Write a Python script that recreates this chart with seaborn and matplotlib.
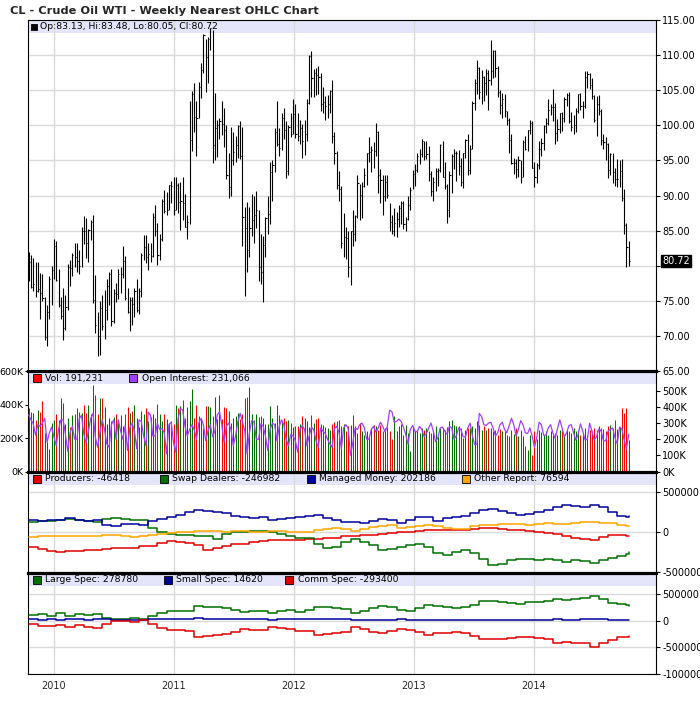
import numpy as np
import pandas as pd
import matplotlib
matplotlib.use("Agg")
import matplotlib.pyplot as plt
import matplotlib.dates as mdates
import matplotlib.transforms as mtransforms
from matplotlib.patches import Rectangle
import seaborn as sns

sns.set_style("white")
plt.rcParams['font.family'] = ['DejaVu Sans']

# ---------------- data ----------------
first_week = "2009-10-16"

price_high = [
    82.0, 81.6, 81.1, 80.5, 80.5, 79.0, 78.8, 75.6, 74.5, 78.5,
    80.0, 83.9, 83.5, 79.6, 75.6, 76.8, 75.9, 80.3, 80.8, 81.9,
    83.2, 83.3, 82.3, 85.6, 87.1, 86.8, 85.3, 86.6, 87.2, 78.7,
    73.5, 75.0, 75.9, 76.6, 78.2, 79.2, 79.6, 76.7, 77.6, 79.5,
    79.8, 82.9, 81.4, 76.8, 75.6, 75.6, 76.8, 78.2, 76.9, 81.8,
    84.4, 84.4, 83.3, 83.2, 87.5, 88.6, 86.1, 84.6, 89.5, 90.8,
    90.5, 91.5, 92.1, 92.6, 92.6, 91.8, 92.0, 92.7, 90.2, 87.3,
    103.4, 104.9, 106.0, 103.4, 106.2, 108.8, 113.0, 112.3, 112.5, 113.9,
    113.5, 104.6, 100.8, 101.0, 103.4, 102.4, 100.0, 96.0, 99.8, 99.0,
    98.5, 100.0, 100.6, 99.8, 88.4, 89.1, 88.4, 90.3, 90.0, 90.6,
    88.0, 84.6, 84.2, 86.9, 89.9, 94.8, 95.0, 99.6, 103.4, 99.6,
    101.7, 102.4, 100.6, 100.0, 101.8, 103.7, 103.0, 101.7, 100.8, 100.2,
    100.7, 103.8, 110.0, 110.5, 108.0, 108.2, 108.4, 107.5, 105.5, 104.2,
    104.3, 105.0, 106.4, 99.0, 96.3, 93.5, 91.4, 87.5, 85.5, 84.9,
    85.0, 88.0, 87.3, 92.9, 91.7, 91.9, 94.0, 96.0, 98.3, 97.0,
    97.6, 100.4, 99.2, 93.8, 92.9, 93.0, 93.0, 89.0, 87.3, 88.3,
    87.7, 88.6, 89.3, 89.2, 87.0, 90.0, 91.2, 93.7, 94.5, 96.0,
    96.6, 98.0, 97.8, 97.8, 97.0, 93.5, 92.6, 94.0, 94.0, 97.3,
    97.8, 94.8, 91.6, 93.5, 95.9, 96.7, 96.3, 96.5, 95.4, 96.0,
    98.0, 98.7, 97.2, 103.4, 106.6, 109.3, 108.3, 107.9, 107.0, 108.0,
    107.9, 112.2, 110.7, 110.7, 108.5, 105.0, 104.6, 104.4, 102.0, 101.1,
    98.7, 95.3, 95.2, 95.6, 95.0, 97.9, 98.5, 99.3, 100.8, 100.6,
    94.8, 94.7, 97.8, 98.2, 100.0, 101.0, 103.8, 103.0, 105.2, 103.2,
    100.9, 101.8, 101.9, 104.0, 104.6, 104.7, 101.9, 101.4, 102.4, 104.5,
    104.6, 103.5, 107.7, 107.7, 107.4, 106.7, 104.3, 104.2, 104.3, 102.3,
    98.8, 98.3, 97.5, 96.0, 96.0, 93.9, 95.2, 95.0, 95.2, 90.9,
    86.1, 83.48,
]

price_low = [
    77.9, 76.8, 76.5, 75.6, 76.3, 72.4, 75.0, 69.5, 68.6, 72.4,
    74.4, 78.2, 77.8, 74.2, 72.4, 69.5, 70.9, 73.8, 77.1, 78.5,
    79.8, 79.2, 78.9, 79.8, 83.1, 81.1, 80.6, 83.7, 74.7, 70.5,
    67.2, 67.3, 70.9, 69.6, 72.3, 74.4, 71.5, 71.9, 74.9, 75.3,
    76.1, 78.3, 75.1, 73.3, 70.8, 71.6, 72.8, 73.5, 73.2, 75.6,
    80.8, 80.4, 79.4, 80.5, 81.2, 84.2, 80.1, 80.9, 83.6, 87.5,
    87.3, 87.9, 88.9, 87.2, 88.0, 87.5, 85.1, 86.6, 85.5, 83.9,
    85.9, 96.3, 99.0, 95.7, 101.0, 103.9, 107.4, 104.7, 106.0, 110.7,
    94.6, 95.0, 95.5, 98.0, 98.6, 96.9, 92.4, 89.6, 90.0, 94.3,
    94.8, 95.4, 95.2, 82.9, 75.7, 79.2, 81.3, 84.2, 83.2, 85.4,
    77.8, 77.5, 74.9, 81.2, 84.6, 85.9, 89.2, 93.4, 97.0, 95.6,
    96.5, 98.0, 92.5, 93.0, 98.3, 98.8, 98.2, 97.7, 97.4, 95.4,
    95.8, 97.8, 103.0, 104.0, 104.0, 104.3, 104.5, 102.0, 101.8, 100.7,
    101.0, 101.7, 97.5, 94.5, 91.0, 89.2, 82.6, 81.2, 81.0, 78.4,
    77.3, 82.8, 83.5, 86.8, 86.6, 86.8, 91.2, 91.5, 94.8, 93.3,
    94.0, 95.6, 90.4, 89.0, 87.3, 89.2, 89.6, 85.0, 84.5, 84.2,
    84.1, 85.5, 85.9, 85.3, 84.9, 86.5, 87.9, 90.9, 91.4, 93.3,
    94.5, 95.5, 95.1, 95.2, 92.1, 89.9, 89.3, 90.6, 91.4, 93.4,
    92.6, 90.9, 86.1, 87.0, 90.4, 93.8, 92.1, 92.9, 91.4, 91.1,
    95.3, 93.0, 93.1, 96.7, 102.2, 104.5, 103.7, 103.1, 103.5, 104.3,
    102.2, 105.8, 106.7, 106.9, 104.0, 101.6, 101.0, 101.2, 100.0, 96.1,
    94.5, 93.1, 92.5, 92.6, 91.8, 92.7, 96.5, 96.4, 98.8, 93.9,
    91.2, 91.8, 93.8, 95.7, 96.5, 98.9, 100.0, 101.4, 100.6, 97.4,
    97.7, 98.9, 99.2, 100.5, 102.8, 100.4, 99.2, 98.7, 99.0, 101.8,
    102.2, 101.1, 102.4, 105.3, 105.2, 103.8, 100.5, 98.5, 101.4, 97.2,
    96.6, 95.0, 92.5, 92.9, 91.8, 91.4, 91.2, 91.2, 89.2, 84.6,
    79.8, 80.05,
]

price_close = [
    80.5, 77.0, 77.4, 76.4, 76.7, 76.1, 75.5, 69.9, 73.4, 78.1,
    79.4, 82.8, 78.0, 74.5, 72.9, 71.2, 74.1, 79.8, 79.7, 81.5,
    81.2, 80.7, 80.0, 85.0, 84.9, 83.2, 85.1, 86.2, 75.1, 71.6,
    70.0, 74.0, 71.5, 73.8, 77.2, 78.9, 72.1, 76.1, 76.0, 78.9,
    78.9, 80.7, 75.4, 73.5, 75.2, 74.6, 76.5, 73.7, 76.5, 81.6,
    82.7, 81.3, 81.7, 81.4, 86.9, 84.9, 81.5, 83.8, 89.2, 87.8,
    88.0, 91.5, 91.4, 88.0, 91.5, 89.1, 89.3, 89.0, 85.6, 86.2,
    97.9, 104.4, 101.2, 101.1, 105.4, 107.9, 112.8, 109.7, 112.3, 113.9,
    97.2, 99.6, 100.1, 100.6, 100.2, 99.3, 93.0, 91.2, 95.0, 96.2,
    97.2, 99.9, 95.7, 86.9, 85.4, 82.3, 85.4, 86.5, 87.2, 87.9,
    79.9, 79.2, 83.0, 86.8, 87.4, 93.3, 94.3, 99.0, 97.4, 96.8,
    101.0, 99.4, 93.5, 99.7, 98.8, 101.6, 98.7, 98.5, 99.6, 97.8,
    98.7, 103.2, 109.8, 106.7, 107.4, 107.1, 106.9, 103.0, 103.3, 102.8,
    103.1, 104.9, 98.5, 96.1, 91.5, 90.9, 83.2, 84.1, 84.0, 79.8,
    85.0, 84.5, 87.1, 91.8, 90.1, 91.4, 92.9, 96.0, 96.2, 96.5,
    96.4, 99.0, 92.9, 92.2, 89.9, 91.9, 90.1, 86.3, 84.9, 86.1,
    86.7, 88.3, 88.9, 85.9, 86.7, 88.7, 90.8, 93.1, 93.6, 95.6,
    95.9, 97.8, 95.7, 95.9, 93.1, 90.7, 91.9, 93.5, 93.7, 97.2,
    92.7, 91.3, 88.0, 93.0, 95.6, 96.0, 96.0, 94.2, 92.0, 96.0,
    97.9, 93.7, 96.6, 103.2, 106.0, 108.1, 104.7, 106.9, 106.0, 107.5,
    106.4, 107.7, 110.5, 108.2, 104.7, 102.9, 103.8, 102.0, 100.8, 97.9,
    94.6, 94.6, 93.8, 95.0, 92.7, 97.6, 96.6, 99.3, 100.3, 94.0,
    92.7, 94.4, 96.6, 97.5, 99.9, 100.3, 102.2, 102.6, 102.6, 98.9,
    99.5, 101.7, 101.1, 103.7, 104.3, 100.6, 99.8, 100.0, 102.0, 104.4,
    102.7, 102.7, 106.9, 107.3, 105.7, 104.1, 100.8, 103.1, 102.1, 97.9,
    97.65, 97.35, 93.65, 95.96, 93.3, 92.3, 92.4, 93.5, 89.7, 85.8,
    82.75, 80.72,
]

# weekly volume and open interest, thousands of contracts
volume_k = [
    380, 359, 353, 306, 367, 355, 422, 233, 175, 135, 292, 306, 347, 310, 443, 408, 282, 322, 265, 337,
    347, 380, 359, 351, 398, 351, 400, 343, 520, 461, 343, 443, 439, 384, 282, 322, 302, 328, 343, 302,
    339, 275, 343, 384, 353, 363, 398, 322, 265, 363, 343, 380, 302, 326, 343, 322, 404, 347, 302, 347,
    312, 292, 302, 282, 398, 380, 394, 428, 318, 388, 424, 496, 322, 400, 333, 312, 261, 394, 394, 384,
    333, 449, 312, 461, 312, 384, 380, 363, 292, 322, 333, 353, 312, 343, 441, 445, 506, 343, 306, 343,
    326, 333, 322, 282, 282, 394, 322, 292, 400, 339, 302, 318, 302, 306, 292, 265, 271, 271, 286, 333,
    318, 302, 265, 339, 292, 312, 322, 282, 277, 265, 261, 251, 282, 298, 302, 306, 271, 286, 241, 271,
    280, 340, 275, 230, 290, 240, 220, 240, 215, 260, 280, 270, 250, 280, 240, 260, 265, 240, 195, 330,
    240, 270, 285, 220, 280, 230, 120, 270, 240, 250, 230, 260, 250, 260, 240, 230, 250, 275, 215, 260,
    260, 250, 265, 300, 310, 280, 275, 270, 260, 200, 250, 260, 260, 270, 260, 300, 280, 250, 275, 250,
    260, 260, 240, 250, 220, 255, 240, 240, 220, 210, 250, 225, 260, 215, 250, 215, 150, 130, 220, 100,
    240, 195, 250, 235, 220, 240, 220, 240, 220, 230, 220, 250, 240, 220, 250, 240, 230, 260, 240, 250,
    220, 230, 260, 220, 250, 240, 260, 250, 270, 260, 255, 240, 270, 280, 260, 310, 255, 265, 380, 350,
    380, 191.231,
]

open_interest_k = [
    352, 320, 296, 225, 290, 280, 300, 330, 180, 240, 275, 215, 160, 260, 320, 320, 230, 125, 240, 280,
    200, 200, 327, 348, 230, 180, 250, 330, 360, 213, 150, 240, 320, 260, 170, 150, 290, 320, 200, 320,
    250, 200, 286, 130, 270, 300, 250, 141, 320, 310, 220, 160, 368, 350, 220, 220, 300, 260, 265, 240,
    110, 290, 305, 180, 120, 330, 390, 380, 280, 220, 260, 290, 260, 200, 300, 330, 290, 190, 250, 290,
    215, 250, 350, 370, 290, 182, 280, 300, 260, 160, 220, 310, 360, 310, 250, 110, 240, 315, 306, 200,
    200, 296, 280, 220, 130, 260, 300, 290, 190, 280, 320, 290, 200, 160, 230, 220, 190, 120, 260, 285,
    260, 160, 220, 275, 258, 190, 150, 270, 250, 235, 200, 170, 150, 265, 280, 240, 141, 270, 290, 265,
    100, 180, 270, 260, 290, 300, 270, 200, 200, 260, 280, 245, 270, 305, 280, 245, 280, 380, 370, 305,
    310, 325, 310, 275, 230, 170, 260, 285, 250, 245, 280, 260, 215, 235, 270, 300, 250, 185, 210, 270,
    275, 250, 230, 280, 270, 200, 220, 270, 260, 215, 215, 270, 300, 220, 165, 170, 360, 340, 290, 285,
    300, 305, 270, 220, 240, 290, 305, 260, 240, 285, 330, 290, 220, 260, 315, 290, 240, 235, 270, 220,
    150, 210, 305, 290, 225, 225, 270, 290, 240, 205, 265, 320, 270, 215, 240, 285, 290, 240, 195, 230,
    295, 250, 195, 200, 300, 250, 195, 215, 265, 250, 190, 190, 250, 260, 270, 210, 170, 275, 265, 200,
    140, 231.066,
]

# COT net positions, thousands of contracts, read every 4th week (+ last week)
producers = [
    -188, -205, -235, -240, -232, -228, -225, -215, -205, -200,
    -198, -190, -175, -165, -130, -108, -115, -135, -160, -215,
    -195, -175, -150, -140, -120, -112, -100, -100, -95, -92,
    -85, -80, -75, -65, -50, -45, -35, -30, -15, -5,
    5, 10, 20, 25, 30, 28, 32, 35, 42, 48,
    50, 40, 35, 28, 20, 10, -5, -20, -50, -70,
    -80, -98, -60, -35, -30, -40, -46.418,
]
swap_dealers = [
    125, 140, 146, 150, 163, 155, 140, 133, 165, 175,
    170, 158, 154, 60, 10, -20, -28, -33, -40, -50,
    -80, -15, 0, 8, 15, 15, 5, -25, -50, -65,
    -75, -150, -200, -180, -120, -85, -117, -158, -215, -205,
    -185, -155, -150, -180, -260, -280, -245, -222, -260, -330,
    -405, -390, -350, -335, -330, -345, -338, -350, -365, -350,
    -360, -388, -345, -318, -290, -265, -246.982,
]
managed_money = [
    154, 140, 150, 160, 175, 150, 140, 150, 95, 75,
    100, 110, 95, 140, 170, 196, 220, 250, 279, 265,
    255, 238, 205, 190, 180, 190, 160, 170, 185, 196,
    205, 217, 180, 160, 135, 130, 115, 140, 170, 150,
    120, 150, 196, 196, 140, 175, 190, 200, 240, 275,
    288, 270, 245, 220, 235, 258, 285, 321, 342, 330,
    320, 340, 320, 255, 200, 196, 202.186,
]
other_report = [
    -54, -50, -48, -46, -46, -44, -45, -40, -28, -35,
    -50, -54, -42, -30, -20, -6, 4, 8, 15, 21,
    12, 8, 17, 12, 4, 10, 17, 12, 8, 8,
    4, 29, 38, 50, 40, 20, 45, 65, 80, 90,
    55, 65, 85, 90, 75, 55, 45, 40, 80, 92,
    95, 105, 110, 100, 92, 105, 112, 104, 108, 121,
    128, 133, 121, 113, 95, 85, 76.594,
]
large_spec = [
    106, 120, 85, 140, 95, 125, 115, 125, 50, 35,
    38, 44, 30, 80, 150, 175, 180, 185, 281, 265,
    252, 230, 200, 170, 180, 185, 150, 185, 200, 170,
    200, 263, 255, 235, 210, 150, 190, 235, 281, 255,
    200, 190, 235, 290, 280, 250, 231, 260, 300, 375,
    365, 350, 325, 320, 345, 356, 370, 415, 392, 405,
    419, 462, 400, 335, 305, 290, 278.78,
]
small_spec = [
    30, 20, 25, 20, 22, 25, 20, 28, 22, 15,
    18, 20, 5, 25, 28, 30, 35, 38, 42, 40,
    38, 35, 32, 30, 28, 30, 20, 28, 25, 30,
    28, 30, 32, 25, 28, 20, 10, 15, 18, 20,
    25, 10, 15, 18, 12, 5, 8, 10, 12, 18,
    20, 15, 18, 20, 15, 18, 20, 22, 18, 20,
    25, 28, 22, 20, 18, 16, 14.62,
]
comm_spec = [
    -69, -100, -95, -80, -120, -90, -115, -130, -60, -15,
    -10, -19, 5, -70, -140, -170, -180, -185, -300, -290,
    -275, -250, -215, -165, -172, -175, -125, -140, -160, -190,
    -200, -269, -255, -235, -210, -125, -155, -210, -238, -185,
    -165, -175, -215, -265, -240, -225, -206, -238, -280, -345,
    -345, -338, -325, -300, -315, -331, -350, -410, -408, -412,
    -425, -487, -420, -360, -310, -300, -293.4,
]

price_ticks = [65, 70, 75, 80, 85, 90, 95, 100, 105, 110, 115]
years = [2010, 2011, 2012, 2013, 2014]

# ---------------- layout ----------------
W_PX, H_PX = 700, 714
X0, X1 = 28, 656
BAND = '#e4e4fa'
GRID = '#dadada'
C_RED, C_GREEN, C_BLUE, C_ORANGE, C_PURPLE = '#e00000', '#007000', '#00009c', '#ffa500', '#a040ff'

weeks = pd.date_range(first_week, periods=len(price_close), freq="7D")
xnum = mdates.date2num(weeks)
cot_idx = list(range(0, 261, 4)) + [261]
cot_x = weeks[cot_idx]
year_ticks = [pd.Timestamp(f"{y}-01-01") for y in years]

fig = plt.figure(figsize=(W_PX / 100, H_PX / 100), dpi=100)


def panel(top_px, bot_px, **kw):
    return fig.add_axes([X0 / W_PX, 1 - bot_px / H_PX, (X1 - X0) / W_PX,
                         (bot_px - top_px) / H_PX], **kw)


ax_p = panel(19.85, 371.4)
ax_v = panel(371.4, 471.5, sharex=ax_p)
ax_c1 = panel(471.5, 572.5, sharex=ax_p)
ax_c2 = panel(572.5, 674.0, sharex=ax_p)
axes = [ax_p, ax_v, ax_c1, ax_c2]
heights = [351.55, 100.1, 101.0, 101.5]


def fx(px):
    return (px - X0) / (X1 - X0)


def legend_item(ax, h, sq_px, txt_px, color, text, ms=5.5):
    yc = 1 - 7.0 / h
    ax.plot([fx(sq_px)], [yc], marker='s', ms=ms, mfc=color, mec='black', mew=0.6,
            transform=ax.transAxes, clip_on=False, zorder=8, ls='none')
    ax.text(fx(txt_px), yc, text, transform=ax.transAxes, fontsize=6.7,
            va='center', ha='left', color='black', zorder=8)


for ax, h in zip(axes, heights):
    ax.set_axisbelow(True)
    ax.add_patch(Rectangle((0, 1 - 13.0 / h), 1, 13.0 / h, transform=ax.transAxes,
                           facecolor=BAND, edgecolor='none', zorder=0.2))
    ax.set_xticks(year_ticks)
    ax.grid(True, axis='x', color=GRID, lw=1.0)
    ax.grid(True, axis='y', color=GRID, lw=1.0)
    for s in ['left', 'right']:
        ax.spines[s].set_color('black')
        ax.spines[s].set_linewidth(0.8)
    ax.spines['bottom'].set_visible(False)
    ax.spines['top'].set_color('black')
    ax.spines['top'].set_linewidth(0.8 if ax is ax_p else 2.3)
    ax.tick_params(axis='x', labelbottom=False, length=0)
    ax.tick_params(axis='y', labelsize=7, length=3, width=0.8, pad=1.5, colors='black')

ax_c2.spines['bottom'].set_visible(True)
ax_c2.spines['bottom'].set_color('black')
ax_c2.spines['bottom'].set_linewidth(0.8)

ax_p.set_xlim(pd.Timestamp("2009-10-14"), pd.Timestamp("2015-01-08"))

# ---------------- price panel ----------------
ax_p.vlines(weeks, price_low, price_high, color='black', lw=0.8, zorder=3)
ax_p.hlines(price_close, xnum, xnum + 3.5, color='black', lw=0.8, zorder=3)
ax_p.set_ylim(65, 115)
ax_p.set_yticks(price_ticks)
# the last-price box covers the 80.00 label, as in the original
ax_p.set_yticklabels(["" if v == 80 else f"{v:.2f}" for v in price_ticks])
ax_p.yaxis.tick_right()
legend_item(ax_p, heights[0], 33.5, 39.5, 'black',
            "Op:83.13, Hi:83.48, Lo:80.05, Cl:80.72", ms=4.0)
tr = mtransforms.blended_transform_factory(ax_p.transAxes, ax_p.transData)
ax_p.text(1 + 6.5 / 628, price_close[-1], f"{price_close[-1]:.2f}", transform=tr,
          color='white', fontsize=7, va='center', ha='left', zorder=10, clip_on=False,
          bbox=dict(boxstyle='square,pad=0.12', fc='black', ec='black'))

# ---------------- volume / open interest panel ----------------
closes = np.array(price_close)
up = np.r_[True, np.diff(closes) >= 0]
vol_colors = np.where(up, '#007000', '#ff0000')
ax_v.vlines(weeks, 0, volume_k, colors=vol_colors, lw=0.75, zorder=3)
ax_v.set_ylim(0, 600)
ax_v.set_yticks([0, 200, 400, 600])
ax_v.set_yticklabels([f"{v}K" for v in [0, 200, 400, 600]])
ax_v.tick_params(axis='y', labelsize=6.8, length=2, pad=1)
ax_v.grid(False, axis='y')

ax_oi = ax_v.twinx()
sns.lineplot(x=weeks, y=open_interest_k, ax=ax_oi, color=C_PURPLE, lw=0.9,
             estimator=None, legend=False)
ax_oi.set_ylim(0, 620)
ax_oi.set_yticks([0, 100, 200, 300, 400, 500])
ax_oi.set_yticklabels([f"{v}K" for v in [0, 100, 200, 300, 400, 500]])
ax_oi.set_ylabel('')
for s in ax_oi.spines.values():
    s.set_visible(False)
ax_oi.tick_params(axis='y', labelsize=7, length=3, width=0.8, pad=1.5, colors='black')
ax_oi.tick_params(axis='x', labelbottom=False, length=0)
ax_oi.grid(False)
legend_item(ax_v, heights[1], 36.5, 45, '#ff0000', "Vol: 191,231")
legend_item(ax_v, heights[1], 133, 141.5, C_PURPLE, "Open Interest: 231,066")

# ---------------- COT panel 1 ----------------
for vals, col in [(producers, C_RED), (swap_dealers, C_GREEN),
                  (managed_money, C_BLUE), (other_report, C_ORANGE)]:
    sns.lineplot(x=cot_x, y=vals, ax=ax_c1, color=col, lw=1.1, drawstyle='steps-post',
                 estimator=None, legend=False, zorder=3)
ax_c1.set_ylim(-502, 760)
ax_c1.set_yticks([-500, 0, 500])
ax_c1.set_yticklabels(["-500000", "0", "500000"])
ax_c1.yaxis.tick_right()
ax_c1.set_ylabel('')
legend_item(ax_c1, heights[2], 37, 45, C_RED, "Producers: -46418")
legend_item(ax_c1, heights[2], 163.5, 172, C_GREEN, "Swap Dealers: -246982")
legend_item(ax_c1, heights[2], 311, 319, C_BLUE, "Managed Money: 202186")
legend_item(ax_c1, heights[2], 465.5, 473.5, C_ORANGE, "Other Report: 76594")

# ---------------- COT panel 2 ----------------
for vals, col in [(large_spec, C_GREEN), (small_spec, C_BLUE), (comm_spec, C_RED)]:
    sns.lineplot(x=cot_x, y=vals, ax=ax_c2, color=col, lw=1.1, drawstyle='steps-post',
                 estimator=None, legend=False, zorder=3)
ax_c2.set_ylim(-1000, 903)
ax_c2.set_yticks([-1000, -500, 0, 500])
ax_c2.set_yticklabels(["-1000000", "-500000", "0", "500000"])
ax_c2.yaxis.tick_right()
ax_c2.set_ylabel('')
legend_item(ax_c2, heights[3], 37, 45, C_GREEN, "Large Spec: 278780")
legend_item(ax_c2, heights[3], 168, 175.5, C_BLUE, "Small Spec: 14620")
legend_item(ax_c2, heights[3], 289, 298, C_RED, "Comm Spec: -293400")

ax_c2.set_xticks(year_ticks)
ax_c2.set_xticklabels([str(y) for y in years])
ax_c2.tick_params(axis='x', labelbottom=True, labelsize=7, length=0, pad=5)
ax_p.set_xlim(pd.Timestamp("2009-10-14"), pd.Timestamp("2015-01-08"))

fig.text(10 / W_PX, 1 - 14.5 / H_PX, "CL - Crude Oil WTI - Weekly Nearest OHLC Chart",
         fontsize=8.2, fontweight='bold', ha='left', va='baseline')

fig.savefig("out.png", dpi=100, facecolor='white')
